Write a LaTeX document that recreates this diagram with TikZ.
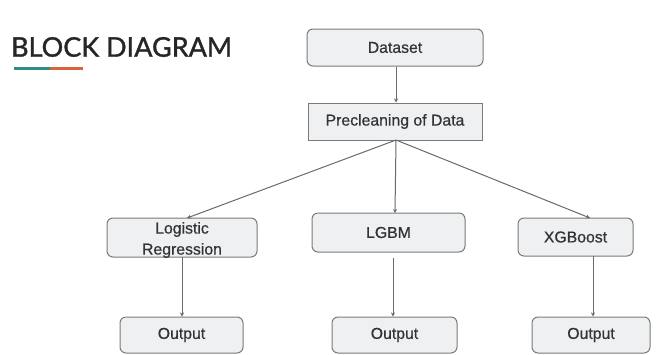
\documentclass[tikz,border=0pt]{standalone}
\usepackage{fontspec}
\setmainfont{Liberation Sans}[FakeBold=0.6]
\newfontfamily\titlefont{Lato}[FakeBold=1.3]
\usetikzlibrary{arrows.meta}
\definecolor{boxfill}{HTML}{EEF0F2}
\definecolor{boxdraw}{HTML}{7A7A7A}
\definecolor{txtc}{HTML}{333333}
\definecolor{linec}{HTML}{6A6A6A}
\definecolor{tealc}{HTML}{2E8C8C}
\definecolor{orangec}{HTML}{D9643A}
\tikzset{
  box/.style={draw=boxdraw, fill=boxfill, line width=1pt, rounded corners=6pt, inner sep=0pt, text=txtc, font=\fontsize{15.8}{18}\selectfont},
  sqbox/.style={box, rounded corners=0pt},
  txt/.style={text=txtc, font=\fontsize{15.8}{21}\selectfont, inner sep=0pt},
  conn/.style={draw=linec, line width=1pt, -{Stealth[length=4pt,width=4pt]}},
}
\begin{document}
\begin{tikzpicture}[x=1pt,y=-1pt]
\useasboundingbox (0,0) rectangle (658,354);
\fill[white] (0,0) rectangle (658,354);
% title
\node[anchor=west, inner sep=0pt, text=black!85, font=\titlefont\fontsize{27}{30}\selectfont] (title) at (11,47) {BLOCK DIAGRAM};
\draw[tealc, line width=3pt] (14,68) -- (50,68);
\draw[orangec, line width=3pt] (50,68) -- (83,68);
% boxes
\node[box, minimum width=176pt, minimum height=37pt] (ds) at (395,47.5) {Dataset};
\node[sqbox, minimum width=174pt, minimum height=37pt] (pre) at (395,121.5) {Precleaning of Data};
\node[box, minimum width=150pt, minimum height=39pt] (lr) at (182,237.5) {};
\node[txt, align=center] (lrt) at (182,240) {Logistic\\Regression};
\node[box, minimum width=153pt, minimum height=39pt] (lg) at (388.5,232.5) {LGBM};
\node[box, minimum width=115pt, minimum height=38pt] (xg) at (575.5,237) {XGBoost};
\node[box, minimum width=123pt, minimum height=36pt] (o1) at (181.5,335) {Output};
\node[box, minimum width=125pt, minimum height=36pt] (o2) at (394.5,335) {Output};
\node[box, minimum width=118pt, minimum height=36pt] (o3) at (591,335) {Output};
% connectors
\coordinate (pb) at (396,140);
\draw[conn] (ds.south -| pb) -- (pre.north -| pb);
\draw[conn] (pb) -- (187,218);
\draw[conn] (pb) -- (395,213);
\draw[conn] (pb) -- (590,218);
\draw[conn] (182,257) -- (o1.north -| 182,0);
\draw[conn] (393,258) -- (o2.north -| 393,0);
\draw[conn] (593,256) -- (o3.north -| 593,0);
\end{tikzpicture}
\end{document}
